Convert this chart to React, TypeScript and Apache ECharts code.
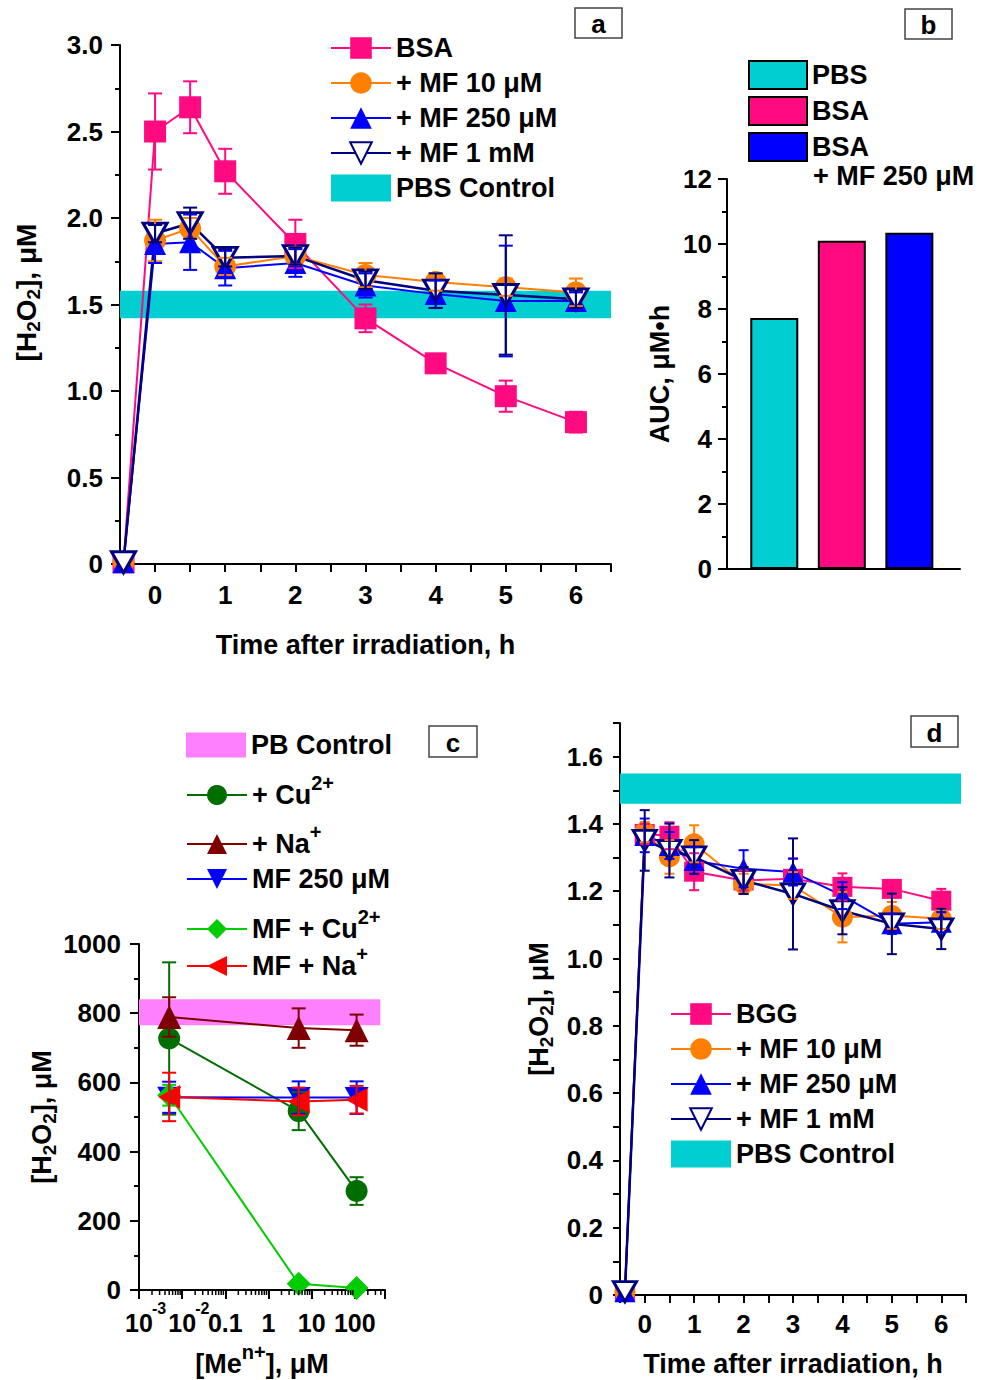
import React, { useEffect, useRef } from 'react';
import * as echarts from 'echarts';

const FONT = '"Liberation Sans", Arial, Helvetica, sans-serif';

// ===== Panel a : BSA =====
const timeA = [-0.45, 0, 0.5, 1, 2, 3, 4, 5, 6];
const bsaA = [0.01, 2.5, 2.64, 2.27, 1.85, 1.42, 1.16, 0.97, 0.82];
const bsaAErr = [0, 0.22, 0.15, 0.13, 0.14, 0.08, 0.03, 0.09, 0.06];
const mf10A = [0.01, 1.87, 1.94, 1.72, 1.78, 1.67, 1.63, 1.6, 1.57];
const mf10AErr = [0, 0.12, 0.06, 0.05, 0.05, 0.07, 0.05, 0.05, 0.08];
const mf250A = [0.01, 1.85, 1.86, 1.71, 1.74, 1.61, 1.56, 1.52, 1.52];
const mf250AErr = [0, 0.11, 0.16, 0.1, 0.08, 0.07, 0.08, 0.32, 0.05];
const mf1mA = [0.01, 1.91, 1.97, 1.77, 1.78, 1.64, 1.58, 1.555, 1.53];
const mf1mAErr = [0, 0.05, 0.09, 0.05, 0.05, 0.05, 0.1, 0.345, 0.05];
const pbsBandA = [1.42, 1.58];

// ===== Panel b : AUC =====
const aucNames = ['PBS', 'BSA', 'BSA + MF 250 μM'];
const aucLegend = ['PBS', 'BSA', 'BSA'];
const aucValues = [7.72, 10.1, 10.35];

// ===== Panel c : metal ions =====
const concC = [0.005, 5, 110];
const cuC = [727, 517, 286];
const cuCErr = [220, 55, 40];
const naC = [789, 757, 751];
const naCErr = [57, 57, 45];
const mf250C = [557, 556, 556];
const mf250CErr = [45, 47, 47];
const mfCuC = [563, 18, 6];
const mfCuCErr = [30, 0, 0];
const mfNaC = [558, 545, 550];
const mfNaCErr = [70, 40, 40];
const pbBandC = [765, 840];
const ionNames = ['+ Cu2+', '+ Na+', 'MF 250 μM', 'MF + Cu2+', 'MF + Na+'];
const ionLabels = ['{n|+ Cu}{sup|2+}', '{n|+ Na}{sup|+}', '{n|MF 250 μM}', '{n|MF + Cu}{sup|2+}', '{n|MF + Na}{sup|+}'];
const concTickExp = [-3, -2, -1, 0, 1, 2];
const concTickMain = ['10', '10', '0.1', '1', '10', '100'];
const concTickSup = ['-3', '-2', '', '', '', ''];

// ===== Panel d : BGG =====
const timeD = [-0.4, 0, 0.5, 1, 2, 3, 4, 5, 6];
const bggD = [0.01, 1.37, 1.365, 1.258, 1.232, 1.237, 1.213, 1.207, 1.172];
const bggDErr = [0, 0.03, 0.04, 0.055, 0.03, 0.06, 0.04, 0.02, 0.035];
const mf10D = [0.01, 1.376, 1.302, 1.341, 1.222, 1.217, 1.123, 1.128, 1.118];
const mf10DErr = [0, 0.03, 0.05, 0.055, 0.03, 0.04, 0.075, 0.04, 0.03];
const mf250D = [0.01, 1.366, 1.336, 1.291, 1.267, 1.257, 1.187, 1.103, 1.108];
const mf250DErr = [0, 0.05, 0.04, 0.04, 0.055, 0.04, 0.04, 0.03, 0.03];
const mf1mD = [0.01, 1.351, 1.321, 1.302, 1.232, 1.192, 1.142, 1.103, 1.088];
const mf1mDErr = [0, 0.09, 0.08, 0.05, 0.04, 0.165, 0.07, 0.09, 0.06];
const pbsBandD = [1.46, 1.55];

// ===== colours & styles =====
const PINK = '#FF0A80';
const ORANGE = '#FF8000';
const BLUE = '#0000FF';
const NAVY = '#00007F';
const CYAN = '#00CED1';
const DKGREEN = '#006E00';
const WINE = '#7F0000';
const LTGREEN = '#00CC00';
const RED = '#FF0000';
const MAGENTA = '#FF80FF';

const DOWN_TRI = 'path://M0,0L20,0L10,17Z';
const LEFT_TRI = 'path://M0,10L18,0L18,20Z';

const richFor = (size: number): any => ({
  sub: { fontFamily: FONT, fontWeight: 'bold', fontSize: 19, lineHeight: 18, verticalAlign: 'bottom', color: '#000' },
  n: { fontFamily: FONT, fontWeight: 'bold', fontSize: size, lineHeight: 44, color: '#000' },
  sup: { fontFamily: FONT, fontWeight: 'bold', fontSize: 20, lineHeight: 20, verticalAlign: 'top', color: '#000' },
});

const axisLine = { show: true, onZero: false, lineStyle: { color: '#000', width: 2 } };
const tick = (len: number) => ({ show: true, inside: false, length: len, lineStyle: { color: '#000', width: 2 } });
const minor = { show: true, splitNumber: 2, length: 5, lineStyle: { color: '#000', width: 2 } };
const label = (margin: number, formatter?: any) => ({
  show: true, margin, formatter, fontFamily: FONT, fontWeight: 'bold', fontSize: 26, color: '#000', lineHeight: 30, rich: richFor(26),
});
const nameStyle = { fontFamily: FONT, fontWeight: 'bold', fontSize: 27, color: '#000', lineHeight: 34, rich: richFor(27) };
const legText = { fontFamily: FONT, fontWeight: 'bold', fontSize: 27, color: '#000', lineHeight: 30, rich: richFor(27) };
const txtStyle = (size: number, align: string) => ({ fill: '#000', fontFamily: FONT, fontWeight: 'bold', fontSize: size, align, verticalAlign: 'middle' });

const intLabel = (v: number) => (Number.isInteger(v) && v >= 0 ? String(v) : '');

function errRender(color: string, capHalf: number, lw: number) {
  return (_params: any, api: any) => {
    const x = api.value(0);
    const p1 = api.coord([x, api.value(1)]);
    const p2 = api.coord([x, api.value(2)]);
    const st = { stroke: color, lineWidth: lw };
    return {
      type: 'group',
      children: [
        { type: 'line', shape: { x1: p1[0], y1: p1[1], x2: p2[0], y2: p2[1] }, style: st },
        { type: 'line', shape: { x1: p1[0] - capHalf, y1: p1[1], x2: p1[0] + capHalf, y2: p1[1] }, style: st },
        { type: 'line', shape: { x1: p2[0] - capHalf, y1: p2[1], x2: p2[0] + capHalf, y2: p2[1] }, style: st },
      ],
    };
  };
}

function errSeries(name: string, axis: number, xs: number[], vals: number[], errs: number[], color: string, cap: number) {
  const data = xs.map((x, i) => [x, vals[i] - errs[i], vals[i] + errs[i], errs[i]]).filter((d) => d[3] > 0);
  return {
    type: 'custom', name: name + ' err', xAxisIndex: axis, yAxisIndex: axis, data,
    encode: { x: 0, y: [1, 2] }, renderItem: errRender(color, cap, 2), z: 4, silent: true, clip: false,
  };
}

function lineSeries(name: string, axis: number, xs: number[], vals: number[], symbol: string, size: any, color: string, itemStyle?: any, width = 2) {
  return {
    type: 'line', name, xAxisIndex: axis, yAxisIndex: axis,
    data: xs.map((x, i) => [x, vals[i]]),
    symbol, symbolSize: size, showAllSymbol: true,
    lineStyle: { color, width },
    itemStyle: itemStyle || { color },
    z: 3, silent: true,
  };
}

function bandSeries(name: string, axis: number, x0: number, x1: number, band: number[], color: string) {
  return {
    type: 'line', name, xAxisIndex: axis, yAxisIndex: axis, data: [], symbol: 'none',
    itemStyle: { color }, lineStyle: { color }, z: 1, silent: true,
    markArea: {
      silent: true, itemStyle: { color, opacity: 1 }, label: { show: false },
      data: [[{ xAxis: x0, yAxis: band[0] }, { xAxis: x1, yAxis: band[1] }]],
    },
  };
}

function box(x: number, y: number, w: number, h: number, t: string) {
  return {
    type: 'group',
    children: [
      { type: 'rect', shape: { x, y, width: w, height: h }, style: { fill: '#fff', stroke: '#444', lineWidth: 1.5 } },
      { type: 'text', x: x + w / 2, y: y + h / 2 + 1, style: { text: t, ...txtStyle(26, 'center') } },
    ],
  };
}

function buildOption(): any {
  const minorTicksC: number[][] = [];
  for (let e = -3; e <= 2; e++) {
    for (let k = 2; k <= 9; k++) {
      const v = k * Math.pow(10, e);
      if (v < 500) minorTicksC.push([v, 0]);
    }
  }
  const openTri = { color: '#fff', borderColor: NAVY, borderWidth: 3 };

  const series: any[] = [
    // ---- a ----
    bandSeries('PBS Control', 0, -0.5, 6.5, pbsBandA, CYAN),
    lineSeries('BSA', 0, timeA, bsaA, 'rect', 22, PINK),
    lineSeries('+ MF 10 μM', 0, timeA, mf10A, 'circle', 22, ORANGE),
    lineSeries('+ MF 250 μM', 0, timeA, mf250A, 'triangle', 22, BLUE),
    lineSeries('+ MF 1 mM', 0, timeA, mf1mA, DOWN_TRI, [24, 21], NAVY, openTri, 2.5),
    errSeries('BSA', 0, timeA, bsaA, bsaAErr, PINK, 7),
    errSeries('+ MF 10 μM', 0, timeA, mf10A, mf10AErr, ORANGE, 7),
    errSeries('+ MF 250 μM', 0, timeA, mf250A, mf250AErr, BLUE, 7),
    errSeries('+ MF 1 mM', 0, timeA, mf1mA, mf1mAErr, NAVY, 7),
    // ---- b ----
    ...aucNames.map((n, i) => ({
      type: 'bar', name: 'AUC ' + n, xAxisIndex: 1, yAxisIndex: 1,
      data: [[i + 1, aucValues[i]]], barWidth: 48, barGap: '-100%', silent: true,
      itemStyle: { color: [CYAN, PINK, BLUE][i], borderColor: '#000', borderWidth: 2 },
    })),
    // ---- c ----
    bandSeries('PB Control', 2, 0.001, 390, pbBandC, MAGENTA),
    lineSeries(ionNames[0], 2, concC, cuC, 'circle', 22, DKGREEN),
    lineSeries(ionNames[1], 2, concC, naC, 'triangle', 24, WINE),
    lineSeries(ionNames[2], 2, concC, mf250C, DOWN_TRI, [24, 21], BLUE),
    lineSeries(ionNames[3], 2, concC, mfCuC, 'diamond', 24, LTGREEN),
    lineSeries(ionNames[4], 2, concC, mfNaC, LEFT_TRI, [22, 24], RED),
    errSeries(ionNames[0], 2, concC, cuC, cuCErr, DKGREEN, 7),
    errSeries(ionNames[1], 2, concC, naC, naCErr, WINE, 7),
    errSeries(ionNames[2], 2, concC, mf250C, mf250CErr, BLUE, 7),
    errSeries(ionNames[3], 2, concC, mfCuC, mfCuCErr, LTGREEN, 7),
    errSeries(ionNames[4], 2, concC, mfNaC, mfNaCErr, RED, 7),
    {
      type: 'custom', name: 'log minor ticks', xAxisIndex: 2, yAxisIndex: 2, data: minorTicksC,
      encode: { x: 0, y: 1 }, silent: true, clip: false, z: 5,
      renderItem: (_p: any, api: any) => {
        const p = api.coord([api.value(0), 0]);
        return { type: 'line', shape: { x1: p[0], y1: p[1], x2: p[0], y2: p[1] + 5 }, style: { stroke: '#000', lineWidth: 1.5 } };
      },
    },
    {
      type: 'custom', name: 'log tick labels', xAxisIndex: 2, yAxisIndex: 2,
      data: concTickExp.map((e, i) => [Math.pow(10, e), 0, i]),
      encode: { x: 0, y: 1 }, silent: true, clip: false, z: 5,
      renderItem: (_p: any, api: any) => {
        const i = api.value(2);
        const p = api.coord([api.value(0), 0]);
        const children: any[] = [
          { type: 'text', x: p[0], y: p[1] + 33, style: { text: concTickMain[i], ...txtStyle(25, 'center') } },
        ];
        if (concTickSup[i]) {
          children.push({ type: 'text', x: p[0] + 13, y: p[1] + 18, style: { text: concTickSup[i], ...txtStyle(16, 'left') } });
        }
        return { type: 'group', children };
      },
    },
    // ---- d ----
    bandSeries('PBS Control', 3, -0.5, 6.4, pbsBandD, CYAN),
    lineSeries('BGG', 3, timeD, bggD, 'rect', 20, PINK),
    lineSeries('+ MF 10 μM', 3, timeD, mf10D, 'circle', 21, ORANGE),
    lineSeries('+ MF 250 μM', 3, timeD, mf250D, 'triangle', 21, BLUE),
    lineSeries('+ MF 1 mM', 3, timeD, mf1mD, DOWN_TRI, [23, 20], NAVY, openTri, 2.5),
    errSeries('BGG', 3, timeD, bggD, bggDErr, PINK, 5),
    errSeries('+ MF 10 μM', 3, timeD, mf10D, mf10DErr, ORANGE, 5),
    errSeries('+ MF 250 μM', 3, timeD, mf250D, mf250DErr, BLUE, 5),
    errSeries('+ MF 1 mM', 3, timeD, mf1mD, mf1mDErr, NAVY, 5),
  ];

  const legBase = { orient: 'vertical', padding: 0, selectedMode: false, textStyle: legText, itemWidth: 60 };
  const cCenters = [745, 795, 844, 879, 929, 966];
  const legendC = [
    { ...legBase, left: 186, top: cCenters[0] - 15, itemHeight: 25, data: [{ name: 'PB Control', icon: 'rect' }] },
    ...ionNames.map((n, i) => ({
      ...legBase, left: 186, top: cCenters[i + 1] - 22, itemHeight: 25, data: [n],
      formatter: () => ionLabels[i],
    })),
  ];

  return {
    animation: false,
    backgroundColor: '#fff',
    grid: [
      { left: 120, top: 45, width: 491, height: 519, outerBoundsMode: 'none' },
      { left: 727, top: 179, width: 233, height: 390, outerBoundsMode: 'none' },
      { left: 139, top: 944, width: 246, height: 346, outerBoundsMode: 'none' },
      { left: 620, top: 723, width: 346, height: 572, outerBoundsMode: 'none' },
    ],
    xAxis: [
      {
        type: 'value', gridIndex: 0, min: -0.5, max: 6.5, interval: 0.5,
        axisLine, axisTick: tick(8), axisLabel: label(16, intLabel), splitLine: { show: false },
        name: 'Time after irradiation, h', nameLocation: 'middle', nameGap: 64, nameTextStyle: nameStyle,
      },
      {
        type: 'value', gridIndex: 1, min: 0.3, max: 3.75,
        axisLine, axisTick: { show: false }, axisLabel: { show: false }, splitLine: { show: false },
      },
      {
        type: 'log', logBase: 10, gridIndex: 2, min: 0.001, max: 500,
        axisLine, axisTick: tick(9), minorTick: { show: false }, splitLine: { show: false },
        axisLabel: { show: false },
        name: '{n|[Me}{sup|n+}{n|], μM}', nameLocation: 'middle', nameGap: 52, nameTextStyle: nameStyle,
      },
      {
        type: 'value', gridIndex: 3, min: -0.5, max: 6.5, interval: 0.5,
        axisLine, axisTick: tick(8), axisLabel: label(14, intLabel), splitLine: { show: false },
        name: 'Time after irradiation, h', nameLocation: 'middle', nameGap: 52, nameTextStyle: nameStyle,
      },
    ],
    yAxis: [
      {
        type: 'value', gridIndex: 0, min: 0, max: 3, interval: 0.5,
        axisLine, axisTick: tick(9), minorTick: minor, splitLine: { show: false },
        axisLabel: label(17, (v: number) => (v === 0 ? '0' : v.toFixed(1))),
        name: '[H{sub|2}O{sub|2}], μM', nameLocation: 'middle', nameGap: 77,
        nameTextStyle: { ...nameStyle, fontSize: 28, padding: [0, 0, 0, 24] },
      },
      {
        type: 'value', gridIndex: 1, min: 0, max: 12, interval: 2,
        axisLine, axisTick: tick(9), minorTick: minor, splitLine: { show: false },
        axisLabel: label(15),
        name: 'AUC, μM•h', nameLocation: 'middle', nameGap: 50, nameTextStyle: nameStyle,
      },
      {
        type: 'value', gridIndex: 2, min: 0, max: 1000, interval: 200,
        axisLine, axisTick: tick(9), minorTick: minor, splitLine: { show: false },
        axisLabel: label(18, (v: number) => String(v)),
        name: '[H{sub|2}O{sub|2}], μM', nameLocation: 'middle', nameGap: 78, nameTextStyle: nameStyle,
      },
      {
        type: 'value', gridIndex: 3, min: 0, max: 1.7, interval: 0.1,
        axisLine, axisTick: tick(7), splitLine: { show: false },
        axisLabel: label(17, (v: number) => {
          const t = Math.round(v * 10);
          if (t % 2 !== 0 || t > 16) return '';
          return t === 0 ? '0' : (t / 10).toFixed(1);
        }),
        name: '[H{sub|2}O{sub|2}], μM', nameLocation: 'middle', nameGap: 64, nameTextStyle: nameStyle,
      },
    ],
    legend: [
      {
        ...legBase, left: 330, top: 33, itemHeight: 27, itemGap: 5,
        data: ['BSA', '+ MF 10 μM', '+ MF 250 μM', '+ MF 1 mM', { name: 'PBS Control', icon: 'rect' }],
      },
      {
        ...legBase, left: 748, top: 60, itemWidth: 58, itemHeight: 28, itemGap: 6,
        data: aucNames.map((n) => ({ name: 'AUC ' + n, icon: 'rect' })),
        formatter: (name: string) => aucLegend[aucNames.indexOf(name.replace('AUC ', ''))],
      },
      ...legendC,
      {
        ...legBase, left: 670, top: 999, itemHeight: 27, itemGap: 5,
        data: ['BGG', '+ MF 10 μM', '+ MF 250 μM', '+ MF 1 mM', { name: 'PBS Control', icon: 'rect' }],
      },
    ],
    graphic: [
      box(575, 8, 47, 30, 'a'),
      box(905, 9, 47, 30, 'b'),
      box(429, 726, 48, 31, 'c'),
      box(911, 716, 47, 31, 'd'),
      { type: 'text', x: 813, y: 176, style: { text: '+ MF 250 μM', ...txtStyle(27, 'left') } },
    ],
    series,
  };
}

export default function App() {
  const ref = useRef<HTMLDivElement>(null);
  useEffect(() => {
    document.body.style.margin = '0';
    if (!ref.current) return;
    const chart = echarts.init(ref.current, undefined, { renderer: 'svg' });
    chart.setOption(buildOption());
    return () => chart.dispose();
  }, []);
  return <div ref={ref} style={{ width: 989, height: 1380 }} />;
}
